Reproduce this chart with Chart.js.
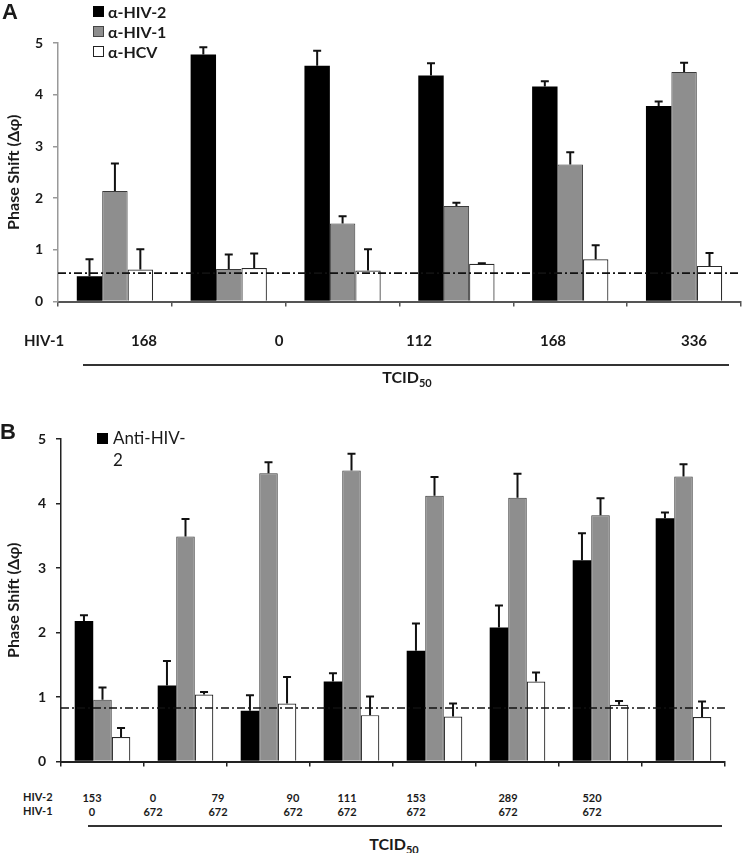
<!DOCTYPE html>
<html>
<head>
<meta charset="utf-8">
<script src="https://cdn.jsdelivr.net/npm/chart.js@4.4.1/dist/chart.umd.min.js"></script>
<style>
  html, body { margin: 0; padding: 0; background: #fff; }
  #wrap { position: relative; width: 742px; height: 853px; overflow: hidden; font-family: Lato, "Open Sans", sans-serif; color: #1a1a1a; }
  .abs { position: absolute; white-space: nowrap; }
  .panel { font-family: "Liberation Sans", Arial, sans-serif; font-weight: bold; font-size: 22px; line-height: 1; }
  .lg { font-weight: bold; font-size: 16px; line-height: 20px; }
  .sw { position: absolute; width: 11px; height: 11px; box-sizing: border-box; }
  .lblA { font-weight: bold; font-size: 15px; transform: translate(-50%, -50%); }
  .lblB { font-weight: bold; font-size: 11px; transform: translate(-50%, -50%); }
  .hline { position: absolute; height: 2px; background: #333; }
  .tcid { font-weight: bold; font-size: 16px; transform: translate(-50%, -50%); }
  .tcid sub { font-size: 11px; vertical-align: -4px; }
</style>
</head>
<body>
<div id="wrap">
  <canvas id="cA" width="742" height="320" class="abs" style="left:0;top:0"></canvas>
  <canvas id="cB" width="742" height="780" class="abs" style="left:0;top:0"></canvas>
  <div id="overlay"></div>
</div>
<script>
// ---------------- DATA ----------------
// Panel A
const catsA = ['1', '2', '3', '4', '5', '6'];
const hivA_labels = ['168', '0', '112', '168', '336'];
const antiHIV2_A = [0.49, 4.78, 4.56, 4.37, 4.16, 3.78];
const antiHIV2_A_err = [0.33, 0.14, 0.29, 0.24, 0.10, 0.09];
const antiHIV1_A = [2.14, 0.63, 1.51, 1.85, 2.65, 4.44];
const antiHIV1_A_err = [0.53, 0.28, 0.14, 0.06, 0.24, 0.18];
const antiHCV_A = [0.62, 0.65, 0.60, 0.73, 0.82, 0.69];
const antiHCV_A_err = [0.39, 0.28, 0.41, 0.01, 0.27, 0.25];
const cutoffA = 0.55;

// Panel B
const catsB = ['1', '2', '3', '4', '5', '6', '7', '8'];
const hiv2B_labels = ['153', '0', '79', '90', '111', '153', '289', '520'];
const hiv1B_labels = ['0', '672', '672', '672', '672', '672', '672', '672'];
const antiHIV2_B = [2.18, 1.18, 0.79, 1.24, 1.72, 2.08, 3.12, 3.77];
const antiHIV2_B_err = [0.09, 0.38, 0.24, 0.13, 0.42, 0.34, 0.42, 0.09];
const antiHIV1_B = [0.96, 3.49, 4.47, 4.51, 4.12, 4.09, 3.82, 4.42];
const antiHIV1_B_err = [0.19, 0.27, 0.17, 0.26, 0.29, 0.37, 0.26, 0.19];
const antiHCV_B = [0.38, 1.04, 0.90, 0.72, 0.70, 1.24, 0.88, 0.69];
const antiHCV_B_err = [0.14, 0.04, 0.41, 0.29, 0.20, 0.14, 0.06, 0.24];
const cutoffB = 0.83;

const yTicks = [0, 1, 2, 3, 4, 5];

// ---------------- STYLE / HELPERS ----------------
const BLACK = '#000000', GRAY = '#8e8e8e', WHITE = '#ffffff';
const FONT = 'Lato, "Open Sans", sans-serif';

const errorBars = {
  id: 'errorBars',
  afterDatasetsDraw(chart) {
    const ctx = chart.ctx;
    const ys = chart.scales.y;
    ctx.save();
    ctx.strokeStyle = '#111';
    ctx.lineWidth = 2;
    chart.data.datasets.forEach((ds, i) => {
      const meta = chart.getDatasetMeta(i);
      meta.data.forEach((el, j) => {
        const v = ds.data[j], e = ds.errs[j];
        const yTop = ys.getPixelForValue(v + e);
        const y0 = ys.getPixelForValue(v);
        ctx.beginPath();
        ctx.moveTo(el.x, y0);
        ctx.lineTo(el.x, yTop);
        ctx.moveTo(el.x - 4, yTop);
        ctx.lineTo(el.x + 4, yTop);
        ctx.stroke();
      });
    });
    ctx.restore();
  }
};

const cutoffLine = {
  id: 'cutoffLine',
  afterDatasetsDraw(chart, args, opts) {
    const ctx = chart.ctx, ca = chart.chartArea;
    const y = chart.scales.y.getPixelForValue(opts.value);
    ctx.save();
    ctx.strokeStyle = '#111';
    ctx.lineWidth = 1.6;
    ctx.setLineDash([8, 3, 2, 3]);
    ctx.beginPath();
    ctx.moveTo(ca.left, y);
    ctx.lineTo(ca.right, y);
    ctx.stroke();
    ctx.restore();
  }
};

function makeChart(id, cats, series, cutoff, o) {
  return new Chart(document.getElementById(id), {
    type: 'bar',
    data: {
      labels: cats,
      datasets: [
        { label: 's1', data: series[0], errs: series[1], backgroundColor: BLACK, borderWidth: 0 },
        { label: 's2', data: series[2], errs: series[3], backgroundColor: GRAY, borderColor: '#3a3a3a', borderWidth: 1 },
        { label: 's3', data: series[4], errs: series[5], backgroundColor: WHITE, borderColor: '#2a2a2a', borderWidth: 1.2 }
      ]
    },
    options: {
      responsive: false,
      animation: false,
      devicePixelRatio: 1,
      categoryPercentage: 0.67,
      barPercentage: 1.0,
      layout: { padding: { top: o.padTop, right: o.padRight, left: 0, bottom: 0 } },
      plugins: {
        legend: { display: false },
        tooltip: { enabled: false },
        cutoffLine: { value: cutoff }
      },
      scales: {
        x: {
          type: 'category',
          offset: true,
          afterFit(s) { s.height = o.xH; },
          ticks: { display: false },
          grid: { offset: true, drawOnChartArea: false, drawTicks: true, tickLength: 5, color: o.xColor, lineWidth: 1.5 },
          border: { display: true, color: o.xColor, width: 2 }
        },
        y: {
          min: 0, max: 5,
          afterFit(s) { s.width = o.yW; },
          afterBuildTicks(s) { s.ticks = yTicks.map(v => ({ value: v })); },
          ticks: { font: { family: FONT, size: 14, weight: 'bold' }, color: '#1a1a1a', padding: 10 },
          grid: { drawOnChartArea: false, drawTicks: true, tickLength: 5, color: o.yColor, lineWidth: 1.5 },
          border: { display: true, color: o.yColor, width: 1.5 },
          title: {
            display: true, text: 'Phase Shift (Δφ)',
            font: { family: FONT, size: 16, weight: 'bold' }, color: '#1a1a1a',
            padding: { top: 4, bottom: 0 }
          }
        }
      }
    },
    plugins: [errorBars, cutoffLine]
  });
}

makeChart('cA', catsA,
  [antiHIV2_A, antiHIV2_A_err, antiHIV1_A, antiHIV1_A_err, antiHCV_A, antiHCV_A_err],
  cutoffA, { padTop: 43, padRight: 1, xH: 9, yW: 58, xColor: '#555', yColor: '#999' });

makeChart('cB', catsB,
  [antiHIV2_B, antiHIV2_B_err, antiHIV1_B, antiHIV1_B_err, antiHCV_B, antiHCV_B_err],
  cutoffB, { padTop: 439 - 0, padRight: 17, xH: 16, yW: 61, xColor: '#222', yColor: '#222' });

// ---------------- TEXT OVERLAY ----------------
const ov = document.getElementById('overlay');
function add(html, cls, style) {
  const d = document.createElement('div');
  d.className = 'abs ' + cls;
  d.setAttribute('style', style);
  d.innerHTML = html;
  ov.appendChild(d);
  return d;
}
// Panel letters
add('A', 'panel', 'left:2px;top:1px;');
add('B', 'panel', 'left:0px;top:421px;');

// Legend A
const legA = ['α-HIV-2', 'α-HIV-1', 'α-HCV'];
const legAfill = [BLACK, GRAY, WHITE];
const legAborder = ['#000', '#444', '#222'];
legA.forEach((t, i) => {
  const yc = 12 + i * 20;
  add('', 'sw', `left:93px;top:${yc - 6}px;background:${legAfill[i]};border:1px solid ${legAborder[i]};`);
  add(t, 'lg', `left:108px;top:${yc - 10}px;`);
});
// Legend B
add('', 'sw', 'left:97px;top:433px;background:#000;');
add('Anti-HIV-<br>2', '', `left:113px;top:427px;font-size:17px;line-height:22px;`);

// Panel A x labels
add('HIV-1', 'lg', 'left:24px;top:330px;font-size:15px;');
const posA = [144, 279, 419, 553, 694];
hivA_labels.forEach((t, i) => add(t, 'lblA', `left:${posA[i]}px;top:340px;`));
add('', 'hline', 'left:83px;top:364px;width:646px;');
add('TCID<sub>50</sub>', 'tcid', 'left:407px;top:378px;');

// Panel B x labels
add('HIV-2', '', 'left:23px;top:790px;font-size:11px;font-weight:bold;');
add('HIV-1', '', 'left:23px;top:804px;font-size:11px;font-weight:bold;');
const posB = [92, 153, 218, 293, 347, 416, 508, 592];
hiv2B_labels.forEach((t, i) => add(t, 'lblB', `left:${posB[i]}px;top:797px;`));
hiv1B_labels.forEach((t, i) => add(t, 'lblB', `left:${posB[i]}px;top:811px;`));
add('', 'hline', 'left:88px;top:825px;width:634px;');
add('TCID<sub>50</sub>', 'tcid', 'left:394px;top:845px;');
</script>
</body>
</html>
